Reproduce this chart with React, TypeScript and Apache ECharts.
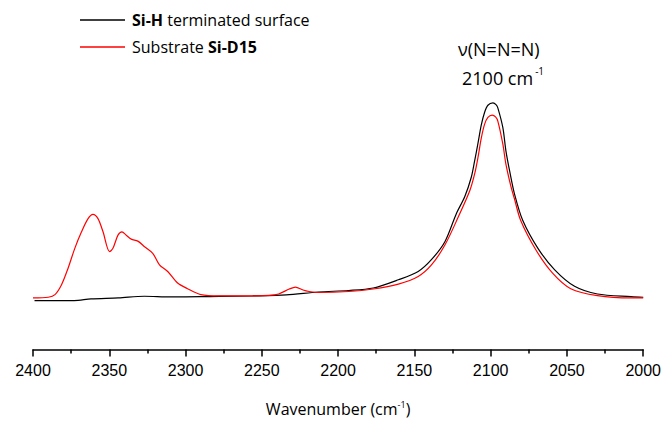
import React, { useEffect, useRef } from "react";
import * as echarts from "echarts";

const blackWn = [2399, 2373, 2362, 2344, 2327, 2310, 2290, 2278, 2256, 2234, 2213, 2193, 2177, 2160.5, 2147.5, 2139, 2130, 2122.5, 2117, 2112.7, 2110.5, 2108.3, 2106.2, 2104, 2101.8, 2098.5, 2096.5, 2095.3, 2092, 2090, 2087.6, 2084.4, 2079, 2069, 2058, 2045, 2030, 2008, 2000];
const blackAbs = [-0.0007, -0.0007, 0.001, 0.002, 0.0037, 0.003, 0.0033, 0.0035, 0.004, 0.005, 0.008, 0.0095, 0.012, 0.0203, 0.0287, 0.0403, 0.0587, 0.087, 0.104, 0.1237, 0.1403, 0.158, 0.176, 0.189, 0.1963, 0.1987, 0.197, 0.1937, 0.1737, 0.1503, 0.1303, 0.107, 0.0803, 0.052, 0.0303, 0.0137, 0.006, 0.0033, 0.0027];

const redWn = [2400, 2390, 2385.6, 2381.3, 2377, 2372.6, 2368.2, 2363.9, 2360.7, 2357.4, 2354.1, 2349.8, 2347.6, 2344.3, 2341.7, 2338.9, 2335.6, 2331.3, 2326.9, 2321.5, 2317.1, 2311.7, 2305.2, 2298.7, 2290, 2278, 2256, 2245, 2239, 2232, 2228, 2223, 2219, 2213, 2193, 2177, 2160.5, 2147.5, 2138.8, 2130, 2121.4, 2113.7, 2110.5, 2108.3, 2106.2, 2104, 2101.8, 2099, 2096.8, 2095.3, 2092, 2090, 2086.6, 2084.4, 2080.3, 2070.3, 2059.4, 2047.5, 2030, 2008, 2000];
const redAbs = [0.002, 0.0027, 0.0053, 0.0153, 0.032, 0.052, 0.0687, 0.082, 0.0863, 0.082, 0.0687, 0.0487, 0.052, 0.0653, 0.0687, 0.0653, 0.0613, 0.0593, 0.0537, 0.047, 0.0353, 0.0287, 0.017, 0.0113, 0.0053, 0.004, 0.004, 0.0045, 0.006, 0.011, 0.013, 0.010, 0.0085, 0.0075, 0.0085, 0.011, 0.016, 0.0237, 0.0353, 0.0553, 0.083, 0.110, 0.127, 0.1437, 0.1627, 0.177, 0.184, 0.1863, 0.1845, 0.1803, 0.157, 0.137, 0.1137, 0.102, 0.080, 0.0503, 0.027, 0.0113, 0.0043, 0.002, 0.002];

const seriesNames = ["Si-H terminated surface", "Substrate Si-D15"];
const xTicks = { min: 2000, max: 2400, interval: 50 };

const FONT = "Open Sans";

export default function App() {
  const ref = useRef<HTMLDivElement>(null);
  useEffect(() => {
    const chart = echarts.init(ref.current!, null, { renderer: "svg" });
    const pair = (w: number[], a: number[]) => w.map((x, i) => [x, a[i]]);
    chart.setOption({
      animation: false,
      backgroundColor: "#fff",
      grid: { left: 33, right: 18, top: 52, bottom: 69 },
      legend: {
        orient: "vertical",
        left: 80,
        top: 9,
        padding: 0,
        itemWidth: 45,
        itemHeight: 1.3,
        itemGap: 5,
        icon: "rect",
        data: seriesNames.map((n, i) => ({ name: n, itemStyle: { color: i === 0 ? "#000" : "#ff0000" } })),
        formatter: (name: string) =>
          name === seriesNames[0] ? "{b|Si-H} terminated surface" : "Substrate {b|Si-D15}",
        textStyle: {
          fontFamily: FONT,
          fontSize: 16,
          lineHeight: 22,
          color: "#000",
          padding: [0, 0, 0, 2],
          rich: { b: { fontFamily: FONT, fontSize: 16, lineHeight: 22, fontWeight: "bold", color: "#000" } },
        },
      },
      xAxis: {
        type: "value",
        inverse: true,
        min: xTicks.min,
        max: xTicks.max,
        interval: xTicks.interval,
        name: "Wavenumber (cm{s|-1})",
        nameLocation: "middle",
        nameGap: 50,
        nameTextStyle: {
          fontFamily: FONT,
          fontSize: 16,
          color: "#000",
          rich: { s: { fontFamily: FONT, fontSize: 9, color: "#000", padding: [0, 0, 10, 0] } },
        },
        axisLine: { onZero: false, lineStyle: { color: "#000", width: 1.5 } },
        axisTick: { length: 7, lineStyle: { color: "#000", width: 1.5 } },
        minorTick: { show: true, splitNumber: 2, length: 4, lineStyle: { color: "#000", width: 1.5 } },
        splitLine: { show: false },
        axisLabel: {
          fontFamily: "Liberation Sans",
          fontSize: 16,
          color: "#000",
          margin: 13,
          formatter: (v: number) => String(v),
        },
      },
      yAxis: { type: "value", min: -0.05, max: 0.25, show: false },
      series: [
        {
          name: seriesNames[0],
          type: "line",
          data: pair(blackWn, blackAbs),
          smooth: 0.3,
          showSymbol: false,
          symbol: "none",
          lineStyle: { color: "#000", width: 1.2 },
          itemStyle: { color: "#000" },
        },
        {
          name: seriesNames[1],
          type: "line",
          data: pair(redWn, redAbs),
          smooth: 0.3,
          showSymbol: false,
          symbol: "none",
          lineStyle: { color: "#ff0000", width: 1.2 },
          itemStyle: { color: "#ff0000" },
        },
      ],
      graphic: [
        {
          type: "text",
          left: 458,
          top: 40,
          style: { text: "ν(N=N=N)", fontFamily: FONT, fontSize: 18, fill: "#000" },
        },
        {
          type: "text",
          left: 462,
          top: 66,
          style: {
            text: "2100 cm{s|-1}",
            fontFamily: FONT,
            fontSize: 18,
            fill: "#000",
            rich: { s: { fontFamily: FONT, fontSize: 10, fill: "#000", padding: [0, 0, 14, 2] } },
          },
        },
      ],
    });
    return () => chart.dispose();
  }, []);
  return <div ref={ref} style={{ width: 664, height: 422, position: "absolute", left: 0, top: 0 }} />;
}
